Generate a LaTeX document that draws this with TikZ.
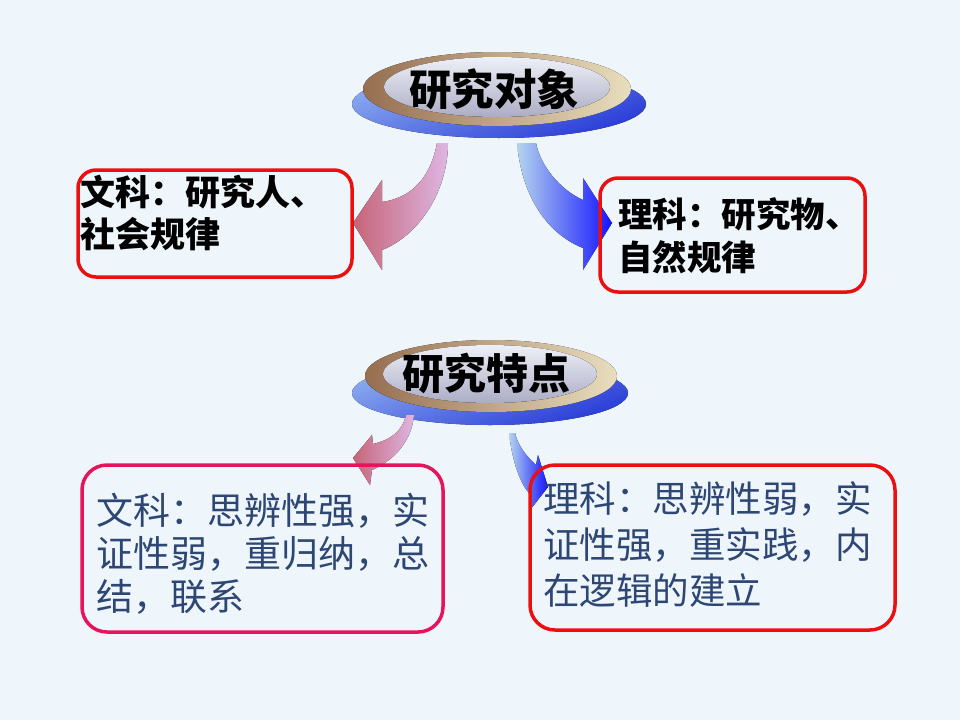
\documentclass[tikz,border=0pt]{standalone}
\usepackage{fontspec}
\newfontfamily\cjk{Noto Sans CJK SC}
\definecolor{bg}{RGB}{238,246,252}
\definecolor{boxred}{RGB}{235,16,16}
\definecolor{boxpink}{RGB}{230,20,90}
\definecolor{textblue}{RGB}{45,70,115}
\definecolor{roseA}{RGB}{198,100,120}
\definecolor{lilacA}{RGB}{222,182,226}
\definecolor{skyA}{RGB}{180,212,238}
\definecolor{blueA}{RGB}{20,20,255}
\definecolor{discA}{RGB}{140,172,240}
\definecolor{discB}{RGB}{40,58,215}
\definecolor{rimA}{RGB}{150,110,80}
\definecolor{rimB}{RGB}{232,222,190}
\definecolor{faceA}{RGB}{238,240,247}
\definecolor{faceB}{RGB}{172,172,196}

\begin{document}
\begin{tikzpicture}[x=1pt, y=-1pt,
  frame/.style = {draw=boxred, line width=3.5pt, rounded corners=18pt},
  topfont/.style = {font=\cjk\bfseries\fontsize{35}{42}\selectfont, align=left, inner sep=0pt, anchor=north west},
  lowfont/.style = {font=\cjk\fontsize{37}{43}\selectfont, text=textblue, align=left, inner sep=0pt, anchor=north west},
  title/.style = {font=\cjk\bfseries\fontsize{42.5}{48}\selectfont}]
\fill[bg] (0,0) rectangle (960,720);
\useasboundingbox (0,0) rectangle (960,720);

% upper disc
\fill[top color=discA, bottom color=discB, shading angle=20] (499,104) ellipse [x radius=147, y radius=34];
\fill[left color=rimA, right color=rimB] (497,89) ellipse [x radius=134, y radius=37];
\fill[top color=faceA, bottom color=faceB] (497,87) ellipse [x radius=113, y radius=30];
\node[title] (obj) at (494,89) {研究对象};

% lower disc
\fill[top color=discA, bottom color=discB, shading angle=20] (490,393) ellipse [x radius=138, y radius=32];
\fill[left color=rimA, right color=rimB] (491,376) ellipse [x radius=126, y radius=36];
\fill[top color=faceA, bottom color=faceB] (490,374) ellipse [x radius=107, y radius=29];
\node[title, font=\cjk\bfseries\fontsize{42}{48}\selectfont] (feat) at (486,373) {研究特点};

% curved arrows
\fill[left color=roseA, right color=lilacA]
  (437,143) .. controls (430,180) and (410,198) .. (382,202) -- (382,180) -- (353,223)
  -- (382,270) -- (382,250) .. controls (420,235) and (448,190) .. (448,143) -- cycle;
\fill[left color=skyA, right color=blueA]
  (517,143) .. controls (522,200) and (550,235) .. (583,248) -- (583,270) -- (612,223)
  -- (583,178) -- (583,200) .. controls (560,190) and (540,165) .. (536,143) -- cycle;
\fill[left color=roseA, right color=lilacA]
  (406,415) .. controls (402,432) and (390,440) .. (373,444) -- (372,435) -- (353,458)
  -- (370,485) -- (372,470) .. controls (395,460) and (412,440) .. (414,415) -- cycle;
\fill[left color=skyA, right color=blueA]
  (509,433) .. controls (512,460) and (520,485) .. (531,495) -- (530,510) -- (548,487)
  -- (538,455) -- (536,465) .. controls (525,455) and (518,445) .. (515,433) -- cycle;

% boxes
\node[frame, minimum width=274, minimum height=107] (wen1) at (215,223.5) {};
\node[topfont] (wen1t) at ([shift={(4,7)}]wen1.north west) {文科：研究人、\\社会规律};
\node[frame, minimum width=265, minimum height=114] (li1) at (732.5,235) {};
\node[topfont, font=\cjk\bfseries\fontsize{34.5}{43}\selectfont] (li1t) at ([shift={(20,21)}]li1.north west) {理科：研究物、\\自然规律};
\node[frame, draw=boxpink, rounded corners=25pt, minimum width=361, minimum height=167] (wen2) at (262.5,548.5) {};
\node[lowfont] (wen2t) at ([shift={(16,30)}]wen2.north west) {文科：思辨性强，实\\证性弱，重归纳，总\\结，联系};
\node[frame, rounded corners=25pt, minimum width=365, minimum height=165] (li2) at (712.5,547.5) {};
\node[lowfont, font=\cjk\fontsize{36.5}{46}\selectfont] (li2t) at ([shift={(15,18)}]li2.north west) {理科：思辨性弱，实\\证性强，重实践，内\\在逻辑的建立};
\end{tikzpicture}
\end{document}
